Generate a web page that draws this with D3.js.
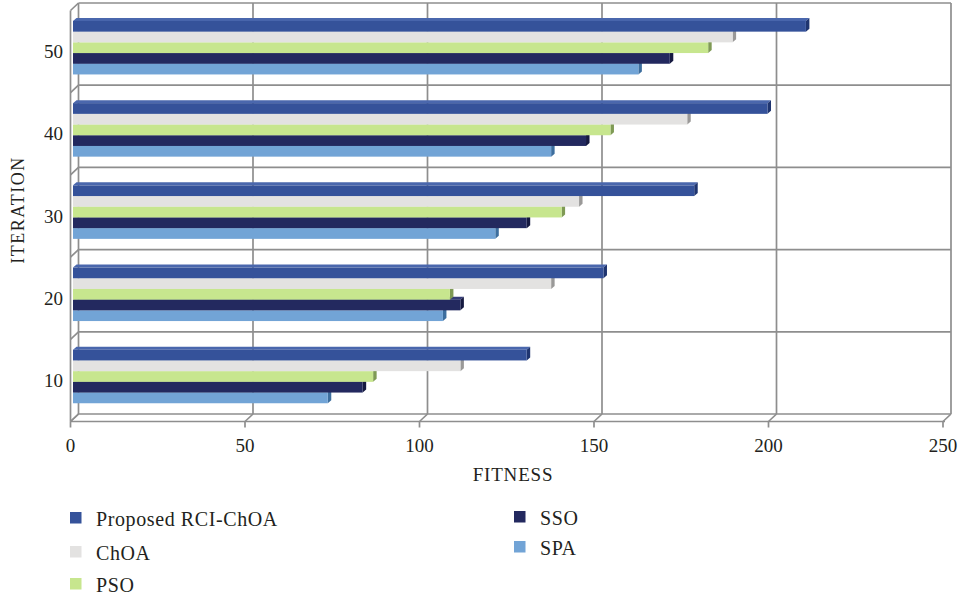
<!DOCTYPE html>
<html>
<head>
<meta charset="utf-8">
<script src="https://cdn.jsdelivr.net/npm/d3@7"></script>
<style>
  html, body { margin: 0; padding: 0; background: #fff; }
  svg { display: block; }
  text { font-family: "Liberation Serif", "DejaVu Serif", serif; fill: #231f20; }
</style>
</head>
<body>
<svg id="chart" width="961" height="599"></svg>
<script>
// Fitness per iteration for each optimiser
const categories = ["10", "20", "30", "40", "50"];
const seriesNames = ["Proposed RCI-ChOA", "ChOA", "PSO", "SSO", "SPA"];
const rciValues  = [130, 152, 178, 199, 210];
const choaValues = [111, 137, 145, 176, 189];
const psoValues  = [86, 108, 140, 154, 182];
const ssoValues  = [83, 111, 130, 147, 171];
const spaValues  = [73, 106, 121, 137, 162];
const xTicks = [0, 50, 100, 150, 200, 250];

const seriesValues = [rciValues, choaValues, psoValues, ssoValues, spaValues];
const colors = {
  "Proposed RCI-ChOA": { face: "#35529a", top: "#4a67ad", cap: "#1f3570" },
  "ChOA":              { face: "#e3e2e1", top: "#ecebea", cap: "#9a9998" },
  "PSO":               { face: "#c7e68e", top: "#d6efa8", cap: "#7f9a55" },
  "SSO":               { face: "#23295f", top: "#353c78", cap: "#151940" },
  "SPA":               { face: "#72a4d6", top: "#8ab6e0", cap: "#3d6e9e" }
};

const svg = d3.select("#chart");
const grid = "#8e8e8e";

// 3D box: back wall, with the front plane shifted down-left by the depth
const DX = 8, DY = 7.5;
const xBack = d3.scaleLinear().domain([0, 250]).range([78.5, 951]);
const xFront = d3.scaleLinear().domain([0, 250]).range([70.5, 943]);
const yBack = d3.scaleBand().domain([...categories].reverse()).range([3, 414]);
const yFront = v => yBack(v) + DY;
const frontFloor = 414 + DY;

const wall = svg.append("g").attr("fill", "none").attr("stroke", grid).attr("stroke-width", 1.7);

// back wall verticals
xTicks.forEach(t => {
  wall.append("line")
    .attr("x1", xBack(t)).attr("x2", xBack(t))
    .attr("y1", 3).attr("y2", 414);
});
// back wall horizontals (category boundaries)
const boundaries = [3].concat(yBack.domain().map(c => yBack(c) + yBack.bandwidth()));
boundaries.forEach(y => {
  wall.append("line")
    .attr("x1", xBack(0)).attr("x2", xBack(250))
    .attr("y1", y).attr("y2", y);
  // left side wall slant
  wall.append("line")
    .attr("x1", xFront(0)).attr("x2", xBack(0))
    .attr("y1", y + DY).attr("y2", y);
});
// left side wall front edge
wall.append("line")
  .attr("x1", xFront(0)).attr("x2", xFront(0))
  .attr("y1", 3 + DY).attr("y2", frontFloor);
// floor front edge and slants
wall.append("line")
  .attr("x1", xFront(0)).attr("x2", xFront(250) + 2)
  .attr("y1", frontFloor).attr("y2", frontFloor);
xTicks.forEach(t => {
  wall.append("line")
    .attr("x1", xFront(t)).attr("x2", xBack(t))
    .attr("y1", frontFloor).attr("y2", 414);
  // tick marks
  wall.append("line")
    .attr("x1", xFront(t)).attr("x2", xFront(t))
    .attr("y1", frontFloor).attr("y2", frontFloor + 6);
});

// bars
const BX = 2.5;            // bar plane offset from the front plane
const EX = 3.5, EY = 3;    // bar extrusion depth
const xBar = v => xFront(v) + BX;
const groupH = 53.5;
const inner = d3.scaleBand().domain(seriesNames).range([0, groupH]);

const bars = svg.append("g");
categories.forEach((cat, ci) => {
  const center = yBack(cat) + yBack.bandwidth() / 2 + 3.6;
  const top0 = center - groupH / 2;
  // draw bottom series first so the bar above covers its top face
  for (let si = seriesNames.length - 1; si >= 0; si--) {
    const name = seriesNames[si];
    const v = seriesValues[si][ci];
    const c = colors[name];
    const y0 = top0 + inner(name);
    const y1 = y0 + inner.bandwidth();
    const x0 = xBar(0), x1 = xBar(v);
    const g = bars.append("g");
    g.append("path")
      .attr("d", `M${x0},${y0}L${x0 + EX},${y0 - EY}L${x1 + EX},${y0 - EY}L${x1},${y0}Z`)
      .attr("fill", c.top);
    g.append("path")
      .attr("d", `M${x1},${y0}L${x1 + EX},${y0 - EY}L${x1 + EX},${y1 - EY}L${x1},${y1}Z`)
      .attr("fill", c.cap);
    g.append("rect")
      .attr("x", x0).attr("y", y0)
      .attr("width", x1 - x0).attr("height", y1 - y0)
      .attr("fill", c.face);
  }
});

// x tick labels
svg.append("g").selectAll("text").data(xTicks).join("text")
  .attr("x", d => xFront(d))
  .attr("y", 452)
  .attr("text-anchor", "middle")
  .attr("font-size", 19)
  .text(d => d);

// category labels
svg.append("g").selectAll("text").data(categories).join("text")
  .attr("x", 63)
  .attr("y", d => yFront(d) + yBack.bandwidth() / 2 + 6.5)
  .attr("text-anchor", "end")
  .attr("font-size", 19)
  .text(d => d);

// axis titles
svg.append("text")
  .attr("x", 513).attr("y", 481)
  .attr("text-anchor", "middle")
  .attr("font-size", 19)
  .attr("letter-spacing", 0.8)
  .text("FITNESS");
svg.append("text")
  .attr("transform", "translate(24,210) rotate(-90)")
  .attr("text-anchor", "middle")
  .attr("font-size", 18)
  .attr("letter-spacing", 1.5)
  .text("ITERATION");

// legend
const legendPos = [
  { x: 70, y: 512 }, { x: 70, y: 546 }, { x: 70, y: 578 },
  { x: 514, y: 511 }, { x: 514, y: 541 }
];
const legend = svg.append("g");
seriesNames.forEach((name, i) => {
  const p = legendPos[i];
  legend.append("rect")
    .attr("x", p.x).attr("y", p.y)
    .attr("width", 11.5).attr("height", 11.5)
    .attr("fill", colors[name].face);
  legend.append("text")
    .attr("x", p.x + 26).attr("y", p.y + 13.5)
    .attr("font-size", 20)
    .attr("letter-spacing", 0.6)
    .text(name);
});
</script>
</body>
</html>
